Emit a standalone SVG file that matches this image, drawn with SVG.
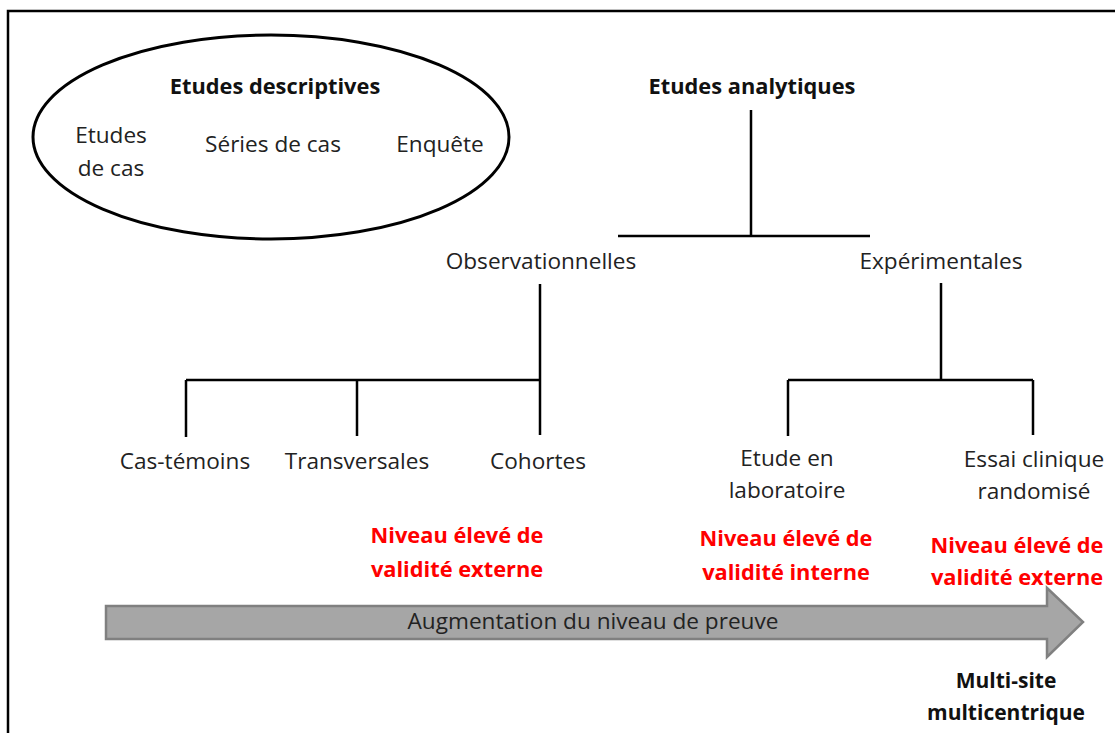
<svg xmlns="http://www.w3.org/2000/svg" width="1115" height="733" viewBox="0 0 1115 733">
<style>
text{font-family:"Open Sans","Liberation Sans",sans-serif;text-anchor:middle;fill:#222}
.n{font-size:22.6px}
.b{font-size:21.8px;font-weight:bold;fill:#111}
.r{font-size:21.8px;font-weight:bold;fill:#ff0000}
.ln{stroke:#000;stroke-width:2.5;fill:none}
</style>
<rect width="1115" height="733" fill="#fff"/>
<path d="M8,745 V11 H1125" stroke="#000" stroke-width="2.5" fill="none"/>
<g id="descriptives">
<ellipse cx="271" cy="137" rx="238" ry="102" fill="none" stroke="#000" stroke-width="3"/>
<text class="b" x="275" y="94">Etudes descriptives</text>
<text class="n" x="111" y="143">Etudes</text>
<text class="n" x="111" y="176">de cas</text>
<text class="n" x="273" y="152">Séries de cas</text>
<text class="n" x="440" y="152">Enquête</text>
</g>
<g id="analytiques"><text class="b" x="752" y="94">Etudes analytiques</text></g>
<g id="observationnelles"><text class="n" x="541" y="269">Observationnelles</text></g>
<g id="experimentales"><text class="n" x="941" y="269">Expérimentales</text></g>
<g id="cas-temoins"><text class="n" x="185" y="469">Cas-témoins</text></g>
<g id="transversales"><text class="n" x="357" y="469">Transversales</text></g>
<g id="cohortes"><text class="n" x="538" y="469">Cohortes</text></g>
<g id="laboratoire"><text class="n" x="787" y="466">Etude en</text><text class="n" x="787" y="498">laboratoire</text></g>
<g id="essai"><text class="n" x="1034" y="467">Essai clinique</text><text class="n" x="1034" y="499">randomisé</text></g>
<g id="validite-externe-1"><text class="r" x="457" y="543">Niveau élevé de</text><text class="r" x="457" y="577">validité externe</text></g>
<g id="validite-interne"><text class="r" x="786" y="546">Niveau élevé de</text><text class="r" x="786" y="580">validité interne</text></g>
<g id="validite-externe-2"><text class="r" x="1017" y="553">Niveau élevé de</text><text class="r" x="1017" y="585">validité externe</text></g>
<g id="arrow">
<path d="M106,606 H1047 V588 L1083,622 L1047,657 V639 H106 Z" fill="#a6a6a6" stroke="#808080" stroke-width="2.5"/>
<text class="n" x="593" y="629">Augmentation du niveau de preuve</text>
</g>
<g id="multisite"><text class="b" x="1006" y="688" style="font-size:21px">Multi-site</text><text class="b" x="1006" y="720" style="font-size:21px">multicentrique</text></g>
<g id="connectors" class="ln">
<path d="M751,110 V236 M618,236 H870"/>
<path d="M540,284 V380 M186,380 H540 M186,380 V437 M357,380 V436 M540,380 V435"/>
<path d="M941,283 V380 M788,380 H1033 M788,380 V436 M1033,380 V435"/>
</g>
</svg>
